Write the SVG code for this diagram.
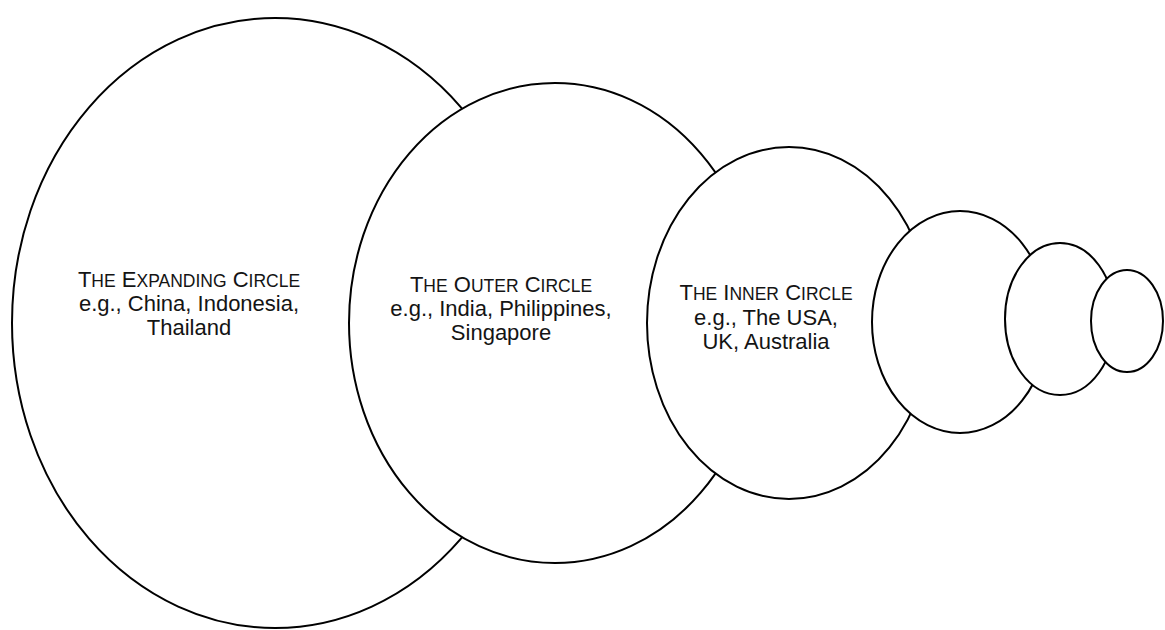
<svg xmlns="http://www.w3.org/2000/svg" width="1165" height="630" viewBox="0 0 1165 630">
<style>
.c{fill:#fff;stroke:#000;stroke-width:2}
.t{font-family:"Liberation Sans",Arial,sans-serif;font-size:22px;fill:#141414;text-anchor:middle}
.s{font-size:17.5px}
</style>
<rect width="1165" height="630" fill="#fff"/>
<g id="expanding">
<ellipse class="c" cx="275" cy="323" rx="263" ry="305"/>
<text class="t" x="189" y="287">T<tspan class="s">HE</tspan> E<tspan class="s">XPANDING</tspan> C<tspan class="s">IRCLE</tspan></text>
<text class="t" x="189" y="311">e.g., China, Indonesia,</text>
<text class="t" x="189" y="335">Thailand</text>
</g>
<g id="outer">
<ellipse class="c" cx="555" cy="323" rx="206" ry="240"/>
<text class="t" x="501" y="292">T<tspan class="s">HE</tspan> O<tspan class="s">UTER</tspan> C<tspan class="s">IRCLE</tspan></text>
<text class="t" x="501" y="316">e.g., India, Philippines,</text>
<text class="t" x="501" y="340">Singapore</text>
</g>
<g id="inner">
<ellipse class="c" cx="789" cy="323" rx="142" ry="176"/>
<text class="t" x="766" y="300">T<tspan class="s">HE</tspan> I<tspan class="s">NNER</tspan> C<tspan class="s">IRCLE</tspan></text>
<text class="t" x="766" y="324.5">e.g., The USA,</text>
<text class="t" x="766" y="349">UK, Australia</text>
</g>
<g id="circle4"><ellipse class="c" cx="960" cy="322" rx="88" ry="111"/></g>
<g id="circle5"><ellipse class="c" cx="1060" cy="319" rx="55" ry="76"/></g>
<g id="circle6"><ellipse class="c" cx="1127" cy="321" rx="36" ry="51"/></g>
<g id="connectors"/>
</svg>
